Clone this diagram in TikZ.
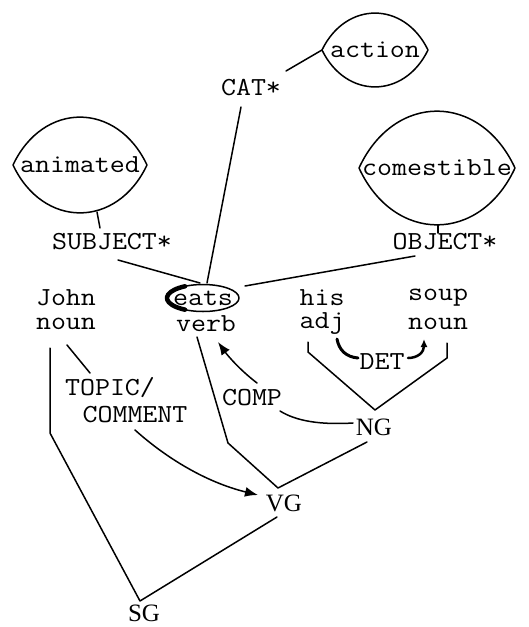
\documentclass[tikz,border=0pt]{standalone}
\usepackage{fontspec}
\setmonofont[FakeStretch=1.12]{Latin Modern Mono}
\newfontfamily\capsfont{Liberation Serif}
\usetikzlibrary{calc,arrows.meta}

% lens-shaped outline around a node: #1 node, #2 half width, #3 half height
\newcommand{\lensaround}[3]{%
  \coordinate (#1W) at ($(#1)+(-#2,0)$);
  \coordinate (#1E) at ($(#1)+(#2,0)$);
  \draw (#1W) .. controls ($(#1)+(-0.55*#2,-1.33*#3)$) and ($(#1)+(0.55*#2,-1.33*#3)$) .. (#1E)
              .. controls ($(#1)+(0.55*#2,1.33*#3)$) and ($(#1)+(-0.55*#2,1.33*#3)$) .. (#1W);
}

\begin{document}
\begin{tikzpicture}[x=1pt,y=-1pt,
  line width=1.5pt, line cap=round, line join=round,
  word/.style={font=\ttfamily\fontsize{26}{27}\selectfont, inner sep=0pt},
  grp/.style={font=\capsfont\fontsize{25}{26}\selectfont, inner sep=0pt},
  bigtip/.style={-{Latex[length=13pt,width=10pt]}},
  smalltip/.style={-{Latex[length=8pt,width=7pt]}}]
\useasboundingbox (0,0) rectangle (528,627);

% semantic markers
\node[word] (act) at (375,50) {action};
\node[word] (ani) at (80,165) {animated};
\node[word] (com) at (437,168) {comestible};
\lensaround{act}{53}{37}
\lensaround{ani}{67}{48}
\lensaround{com}{78}{57}

% feature labels
\node[word] (cat)  at (251,88)  {CAT*};
\node[word] (subj) at (112,242) {SUBJECT*};
\node[word] (obj)  at (445,242) {OBJECT*};

% words and word classes
\node[word] (john)  at (66,298)  {John};
\node[word] (jnoun) at (66,324)  {noun};
\node[word] (eats)  at (203,298) {eats};
\node[word] (verb)  at (206,324) {verb};
\node[word] (his)   at (322,298) {his};
\node[word] (adj)   at (322,324) {adj};
\node[word] (soup)  at (438,298) {soup};
\node[word] (snoun) at (438,324) {noun};

% relation labels
\node[word] (topic)   at (110,388) {TOPIC/};
\node[word] (comment) at (135,415) {COMMENT};
\node[word] (comp)    at (252,398) {COMP};
\node[word] (det)     at (382,362) {DET};

% groups
\node[grp] (ng) at (374,427) {NG};
\node[grp] (vg) at (284,503) {VG};
\node[grp] (sg) at (144,613) {SG};

% oval round the verb, heavier on its left side
\draw (eats) ellipse [x radius=36, y radius=13.5];
\draw[line width=4.5pt] ($(eats)+(-18,-11.7)$) arc[start angle=240, end angle=120, x radius=36, y radius=13.5];

% links of the features
\draw ($(cat)+(35,-17)$) -- (actW);
\draw ($(cat)+(-10,19)$) -- ($(eats)+(4,-15)$);
\draw ($(ani)+(17,47)$) -- ($(subj)+(-12,-14)$);
\draw ($(com)+(1,57)$) -- ($(obj)+(-7,-9)$);
\draw ($(subj)+(6,18)$) -- ($(eats)+(-3,-15)$);
\draw ($(obj)+(-30,14)$) -- ($(eats)+(42,-12)$);

% constituent structure
\draw ($(jnoun)+(-16,24)$) -- (50,433) -- ($(sg)+(-4,-12)$) -- ($(vg)+(-7,14)$);
\draw ($(verb)+(-9,13)$) -- (228,443) -- ($(vg)+(-6,-15)$) -- ($(ng)+(-7,15)$);
\draw ($(adj)+(-14,18)$) -- ($(adj)+(-14,28)$) -- ($(ng)+(1,-17)$) -- ($(snoun)+(9,34)$) -- ($(snoun)+(9,19)$);
\draw ($(jnoun)+(1,21)$) -- ($(topic)+(-20,-15)$);

% functional relations
\draw[bigtip] ($(comment)+(0,15)$) .. controls (165,457) and (205,482) .. ($(vg)+(-26,-8)$);
\draw[bigtip] ($(comp)+(5,-15)$) .. controls (240,370) and (228,356) .. ($(verb)+(12,18)$);
\draw ($(ng)+(-21,-4)$) .. controls (320,425) and (296,421) .. ($(comp)+(28,13)$);
\draw[line width=3pt] ($(adj)+(15,15)$) .. controls (339,350) and (346,357) .. ($(det)+(-24,-4)$);
\draw[line width=2.5pt, smalltip] ($(det)+(26,-4)$) .. controls (418,358) and (424,352) .. ($(snoun)+(-14,15)$);
\end{tikzpicture}
\end{document}
